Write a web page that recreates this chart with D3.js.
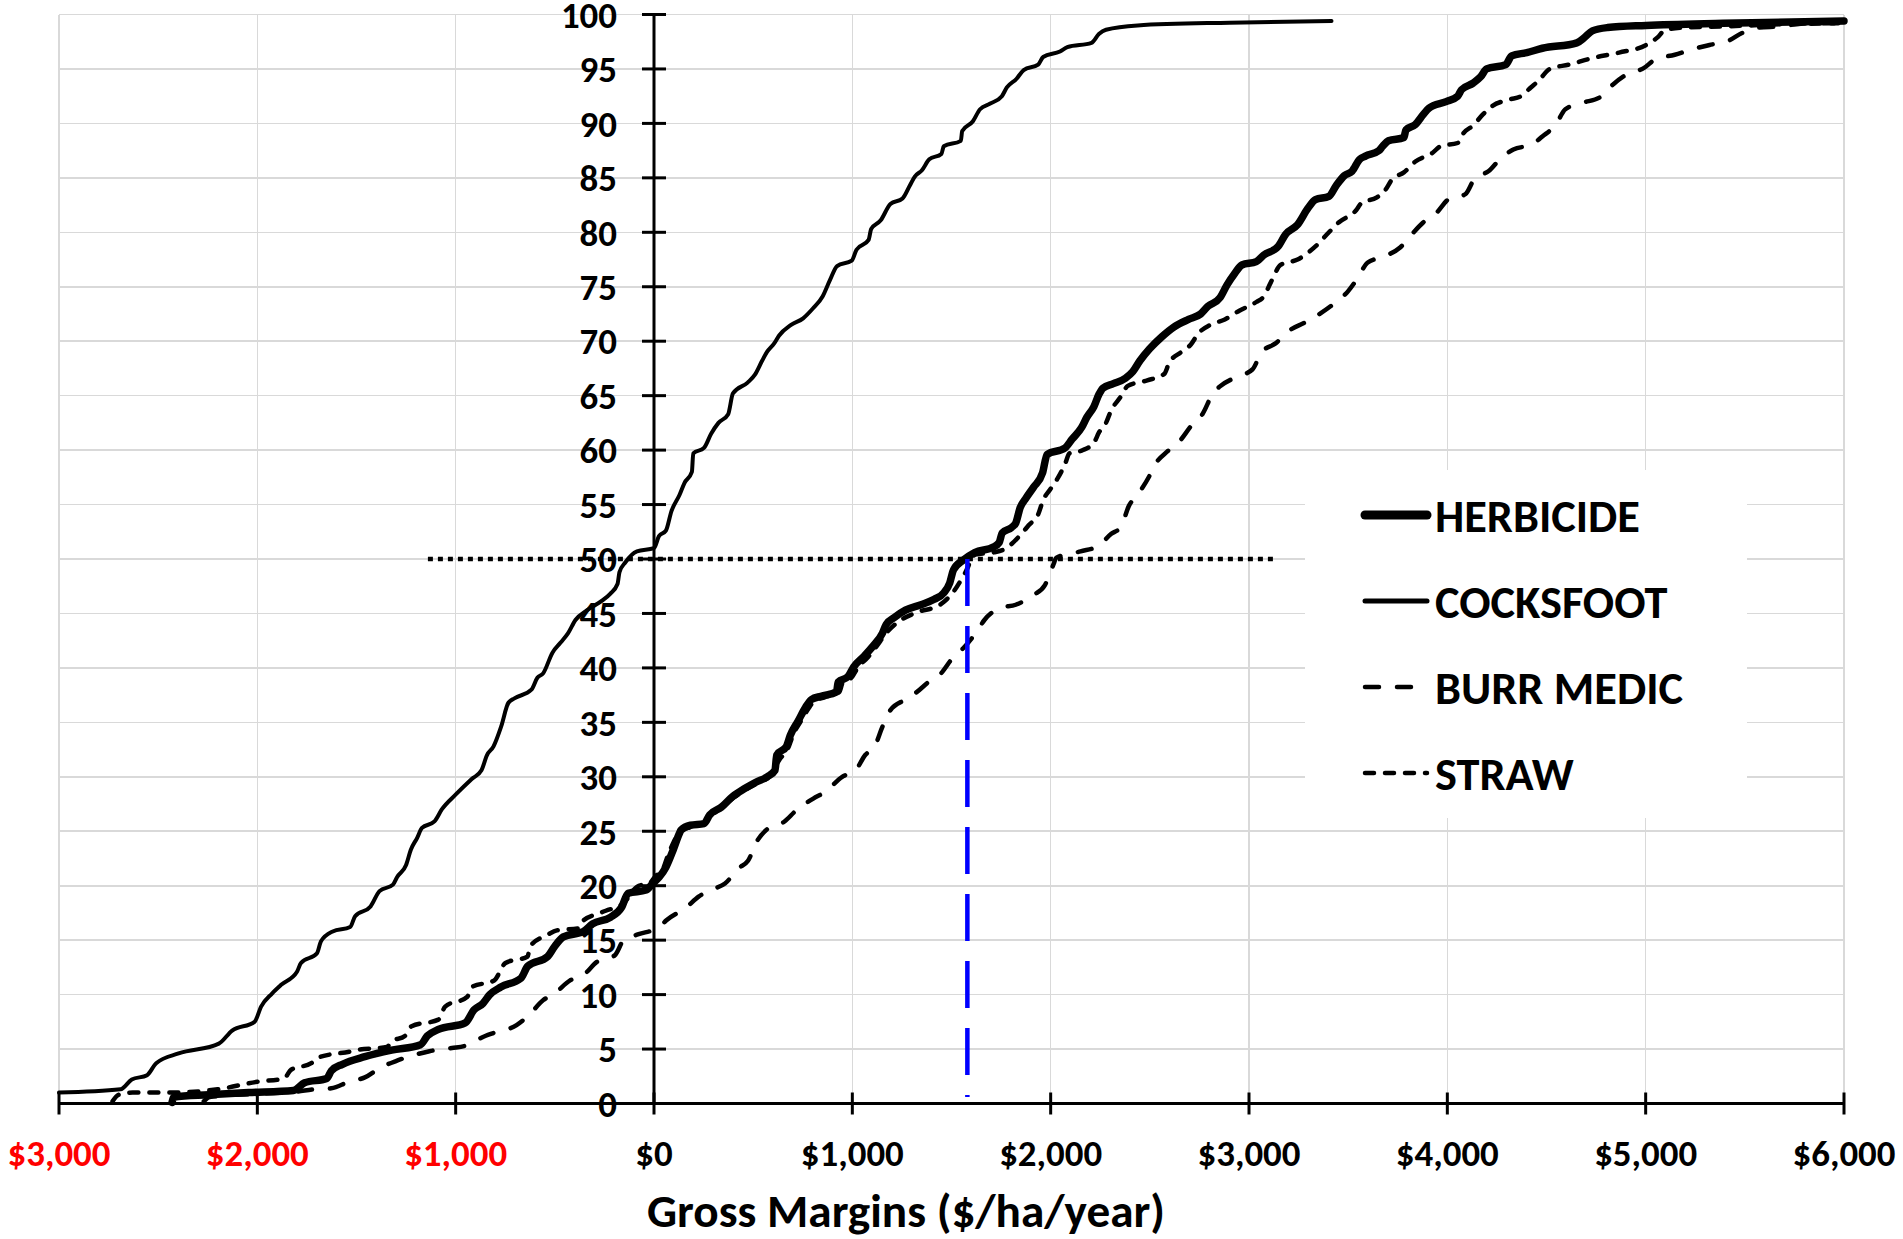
<!DOCTYPE html>
<html lang="en">
<head>
<meta charset="UTF-8">
<title>Gross margins cumulative distribution</title>
<script src="https://d3js.org/d3.v7.min.js"></script>
<style>
  body { margin: 0; background: #ffffff; }
  svg { display: block; }
  text { font-family: Carlito, Lato, "Open Sans", sans-serif; font-weight: bold; }
  line.grid { stroke: #d9d9d9; stroke-width: 1.6; shape-rendering: crispEdges; }
</style>
</head>
<body>
<svg id="chart" width="1903" height="1239"></svg>
<script>
// ---- data (gross margin $/ha/year, cumulative %) ----
var xTicks = [-3000, -2000, -1000, 0, 1000, 2000, 3000, 4000, 5000, 6000];
var xTickLabels = ["$3,000", "$2,000", "$1,000", "$0", "$1,000", "$2,000", "$3,000", "$4,000", "$5,000", "$6,000"];
var yTicks = [0, 5, 10, 15, 20, 25, 30, 35, 40, 45, 50, 55, 60, 65, 70, 75, 80, 85, 90, 95, 100];
var seriesNames = ["HERBICIDE", "COCKSFOOT", "BURR MEDIC", "STRAW"];
var medianLevel = 50;
var medianSpan = [-1140, 3145];
var herbicideMedian = 1580;

var herbicide = [[-2430,0.1],[-2420,0.6],[-2246,0.8],[-2043,1.0],[-1818,1.2],[-1762,1.9],[-1650,2.3],[-1627,3.0],[-1571,3.6],[-1458,4.3],[-1323,4.9],[-1177,5.4],[-1143,6.2],[-1087,6.8],[-952,7.4],[-907,8.6],[-862,9.2],[-828,10.0],[-772,10.7],[-671,11.5],[-637,12.6],[-536,13.5],[-502,14.4],[-457,15.3],[-356,15.8],[-310,16.5],[-220,17.1],[-164,18.0],[-130,19.3],[-40,19.6],[-7,20.2],[27,20.8],[60,21.7],[97,23.3],[128,24.8],[136,25.1],[184,25.55],[252,25.7],[281,26.5],[339,27.2],[397,28.2],[455,28.9],[513,29.5],[571,30.0],[610,30.6],[619,32.0],[668,32.8],[687,33.8],[726,35.1],[765,36.4],[794,37.1],[842,37.4],[920,37.8],[929,38.7],[978,39.2],[1007,40.1],[1055,41.0],[1104,42.0],[1152,43.2],[1171,44.0],[1210,44.6],[1268,45.3],[1346,45.8],[1413,46.3],[1462,46.9],[1491,47.8],[1510,49.0],[1559,49.9],[1617,50.6],[1711,51.1],[1740,51.5],[1756,52.4],[1803,52.9],[1824,53.3],[1846,54.7],[1876,55.6],[1914,56.6],[1959,57.9],[1982,59.6],[2072,60.2],[2108,61.0],[2157,62.1],[2182,63.0],[2218,64.0],[2243,65.1],[2264,65.7],[2316,66.1],[2377,66.6],[2414,67.2],[2450,68.2],[2499,69.3],[2560,70.4],[2621,71.3],[2695,72.0],[2756,72.5],[2793,73.2],[2854,74.0],[2890,75.2],[2927,76.2],[2964,77.0],[3037,77.3],[3074,77.9],[3147,78.7],[3184,79.8],[3245,80.7],[3297,82.2],[3335,83.0],[3403,83.3],[3440,84.3],[3481,85.2],[3519,85.6],[3558,86.7],[3587,87.0],[3655,87.5],[3674,87.9],[3703,88.4],[3781,88.7],[3791,89.4],[3839,89.9],[3878,90.8],[3907,91.4],[3994,92.0],[4052,92.5],[4072,93.1],[4130,93.7],[4169,94.3],[4198,95.0],[4295,95.4],[4324,96.2],[4401,96.5],[4479,96.9],[4653,97.4],[4692,97.9],[4731,98.5],[4808,98.8],[5002,99.0],[5390,99.2],[6000,99.4]];

var cocksfoot = [[-3000,1.0],[-2690,1.3],[-2633,2.2],[-2556,2.6],[-2510,3.7],[-2397,4.6],[-2194,5.5],[-2127,6.7],[-2014,7.5],[-1981,8.9],[-1926,10.1],[-1880,10.9],[-1800,12.1],[-1780,12.9],[-1699,13.8],[-1679,14.9],[-1620,15.8],[-1532,16.2],[-1507,17.2],[-1429,18.1],[-1384,19.5],[-1316,20.1],[-1295,20.8],[-1250,21.9],[-1226,23.3],[-1194,24.4],[-1170,25.3],[-1107,25.9],[-1070,27.0],[-998,28.4],[-919,29.8],[-870,30.6],[-842,32.0],[-809,32.8],[-771,34.6],[-734,36.8],[-704,37.2],[-618,38.0],[-588,39.1],[-559,39.5],[-512,41.4],[-472,42.3],[-433,43.2],[-396,44.4],[-337,45.3],[-260,46.2],[-221,46.8],[-184,47.7],[-174,48.8],[-144,49.7],[-86,50.7],[0,51.0],[25,52.1],[60,52.6],[88,54.4],[129,55.9],[154,57.0],[191,58.0],[198,59.7],[252,60.2],[288,61.5],[325,62.5],[374,63.3],[398,65.2],[472,66.2],[508,66.9],[545,68.2],[569,69.0],[606,69.8],[630,70.5],[691,71.5],[752,72.1],[801,73.0],[850,74.1],[887,75.6],[923,76.9],[997,77.4],[1021,78.4],[1082,79.3],[1095,80.3],[1143,81.1],[1192,82.6],[1253,83.1],[1290,84.3],[1314,85.1],[1351,85.7],[1388,86.7],[1449,87.2],[1461,87.9],[1547,88.4],[1554,89.3],[1608,90.2],[1644,91.3],[1693,91.8],[1754,92.5],[1779,93.3],[1828,94.1],[1864,94.9],[1937,95.4],[1962,96.1],[2047,96.6],[2084,97.0],[2206,97.4],[2243,98.2],[2279,98.6],[2438,99.0],[2902,99.25],[3416,99.4]];

var burrMedic = [[-2270,0.2],[-2240,0.6],[-2000,0.9],[-1800,1.1],[-1717,1.3],[-1627,1.4],[-1537,2.0],[-1458,2.4],[-1379,3.3],[-1301,3.9],[-1199,4.5],[-1132,4.8],[-1019,5.1],[-952,5.3],[-851,6.2],[-805,6.5],[-693,7.2],[-637,8.0],[-558,9.5],[-502,10.1],[-423,11.3],[-356,11.8],[-288,13.0],[-198,13.6],[-153,15.0],[-86,15.5],[27,16.2],[61,16.8],[162,18.0],[225,19.0],[300,19.7],[358,20.2],[426,21.6],[474,22.3],[523,24.2],[571,25.2],[658,25.9],[716,26.9],[803,28.0],[862,28.6],[949,30.0],[1016,30.6],[1065,32.0],[1113,32.8],[1152,34.6],[1191,36.1],[1268,37.1],[1326,37.8],[1384,38.7],[1442,39.4],[1510,41.0],[1559,41.8],[1626,43.3],[1666,44.4],[1745,45.5],[1824,45.8],[1914,46.7],[1971,47.6],[2016,49.6],[2027,50.1],[2151,50.7],[2242,51.2],[2304,52.3],[2353,52.9],[2395,54.9],[2438,55.9],[2500,57.7],[2524,58.6],[2590,59.9],[2649,60.8],[2712,62.3],[2765,63.3],[2818,65.2],[2850,65.8],[2935,66.7],[3017,67.4],[3064,69.0],[3134,69.8],[3205,71.0],[3281,71.7],[3364,72.6],[3425,73.4],[3500,74.6],[3548,75.8],[3597,77.2],[3684,77.8],[3762,78.6],[3820,79.8],[3878,80.9],[3946,81.8],[4004,83.0],[4091,83.5],[4140,85.0],[4207,85.6],[4275,86.9],[4333,87.6],[4430,88.1],[4479,88.8],[4547,89.9],[4595,91.3],[4682,91.9],[4769,92.4],[4837,93.6],[4905,94.5],[4992,95.1],[5050,95.9],[5147,96.3],[5234,96.8],[5322,97.2],[5419,97.6],[5486,98.3],[5574,98.8],[5671,98.9],[5758,99.1],[5855,99.2],[5951,99.2]];

var straw = [[-2730,0.2],[-2700,0.8],[-2629,1.0],[-2449,1.0],[-2200,1.3],[-2000,2.0],[-1865,2.3],[-1830,3.1],[-1728,3.7],[-1695,4.2],[-1526,4.8],[-1503,4.9],[-1346,5.2],[-1323,5.7],[-1256,6.2],[-1222,7.1],[-1087,7.7],[-1053,8.9],[-941,9.8],[-918,10.7],[-806,11.3],[-749,12.9],[-637,13.5],[-626,14.4],[-536,15.5],[-490,15.9],[-378,16.1],[-356,16.8],[-288,17.4],[-243,17.7],[-153,18.4],[-86,19.9],[-18,20.3],[4,20.8],[49,21.7],[72,22.9],[94,23.8],[130,25.0],[190,25.4],[260,25.8],[300,26.6],[350,27.3],[410,28.2],[470,28.9],[530,29.5],[585,30.1],[630,31.5],[680,32.8],[700,33.8],[740,35.1],[780,36.3],[810,37.0],[860,37.3],[935,37.8],[950,38.6],[1000,39.2],[1030,40.1],[1075,40.9],[1123,42.0],[1171,43.2],[1229,44.2],[1326,45.1],[1442,45.8],[1510,47.0],[1568,48.7],[1620,50.4],[1711,50.6],[1767,50.9],[1852,52.3],[1889,53.1],[1937,54.1],[1962,55.4],[1998,56.4],[2035,57.4],[2072,58.7],[2095,59.7],[2163,60.0],[2219,60.7],[2243,61.6],[2279,62.5],[2304,63.6],[2353,64.9],[2389,65.9],[2487,66.4],[2573,67.0],[2597,68.0],[2658,69.0],[2707,69.7],[2744,70.7],[2805,71.5],[2878,72.0],[2951,72.8],[3037,73.6],[3074,74.1],[3110,75.4],[3159,77.0],[3245,77.5],[3335,78.7],[3403,80.0],[3452,80.9],[3539,82.0],[3568,82.7],[3645,83.2],[3684,83.8],[3723,84.9],[3781,85.5],[3839,86.5],[3926,87.3],[3965,87.9],[4052,88.2],[4081,89.1],[4130,89.8],[4178,90.8],[4227,91.6],[4314,92.2],[4372,92.5],[4421,93.3],[4459,93.9],[4517,95.0],[4614,95.4],[4731,96.0],[4866,96.5],[5002,97.2],[5060,97.9],[5099,98.6],[5196,98.8],[5390,98.9],[5680,99.1],[5971,99.2]];

// ---- drawing ----
var svg = d3.select("#chart");
svg.append("rect").attr("width", 1903).attr("height", 1239).attr("fill", "#ffffff");

var xScale = d3.scaleLinear().domain([-3000, 6000]).range([59, 1844]);
var yScale = d3.scaleLinear().domain([0, 100]).range([1103.5, 14.5]);

// scale a label font so a sample string reaches a given width
function fitSize(sample, target) {
    var t = svg.append("text").attr("font-size", 100).text(sample);
    var w = t.node().getComputedTextLength();
    t.remove();
    return 100 * target / w;
}
var tickSize = fitSize("$3,000", 103);
var titleSize = fitSize("Gross Margins ($/ha/year)", 518);
var legendSize = fitSize("HERBICIDE", 205);

// gridlines
svg.append("g").selectAll("line")
    .data(xTicks)
    .enter().append("line")
    .attr("class", "grid")
    .attr("x1", function (d) { return xScale(d) })
    .attr("x2", function (d) { return xScale(d) })
    .attr("y1", yScale(0))
    .attr("y2", yScale(100));

svg.append("g").selectAll("line")
    .data(yTicks.slice(1))
    .enter().append("line")
    .attr("class", "grid")
    .attr("x1", xScale(-3000))
    .attr("x2", xScale(6000))
    .attr("y1", function (d) { return yScale(d) })
    .attr("y2", function (d) { return yScale(d) });

// 50% reference line
svg.append("line")
    .attr("x1", xScale(medianSpan[0]))
    .attr("x2", xScale(medianSpan[1]))
    .attr("y1", yScale(medianLevel))
    .attr("y2", yScale(medianLevel))
    .attr("stroke", "#000000")
    .attr("stroke-width", 4.5)
    .attr("stroke-dasharray", "5,5");

var line = d3.line()
    .x(function (d) { return xScale(d[0]) })
    .y(function (d) { return yScale(d[1]) })
    .curve(d3.curveMonotoneX);

var styles = [
    { data: herbicide, width: 7.5, dash: null },
    { data: cocksfoot, width: 4, dash: null },
    { data: burrMedic, width: 4.5, dash: "14,18" },
    { data: straw, width: 4.5, dash: "9,11" }
];

// draw bottom to top: straw, burr medic, cocksfoot, herbicide
[3, 2, 1, 0].forEach(function (i) {
    svg.append("path")
        .attr("d", line(styles[i].data))
        .attr("fill", "none")
        .attr("stroke", "#000000")
        .attr("stroke-width", styles[i].width)
        .attr("stroke-linecap", "round")
        .attr("stroke-linejoin", "round")
        .attr("stroke-dasharray", styles[i].dash);
});

// blue drop line at the herbicide median
svg.append("line")
    .attr("x1", xScale(herbicideMedian))
    .attr("x2", xScale(herbicideMedian))
    .attr("y1", yScale(medianLevel))
    .attr("y2", yScale(0.6))
    .attr("stroke", "#0000ff")
    .attr("stroke-width", 4.5)
    .attr("stroke-dasharray", "47,20");

// axes
var axes = svg.append("g").attr("stroke", "#000000").attr("stroke-width", 3);
axes.append("line")
    .attr("x1", xScale(-3000)).attr("x2", xScale(6000))
    .attr("y1", yScale(0)).attr("y2", yScale(0));
axes.append("line")
    .attr("x1", xScale(0)).attr("x2", xScale(0))
    .attr("y1", yScale(0)).attr("y2", yScale(100));
axes.selectAll("line.xt")
    .data(xTicks)
    .enter().append("line")
    .attr("class", "xt")
    .attr("x1", function (d) { return xScale(d) })
    .attr("x2", function (d) { return xScale(d) })
    .attr("y1", yScale(0) - 11)
    .attr("y2", yScale(0) + 11);
axes.selectAll("line.yt")
    .data(yTicks)
    .enter().append("line")
    .attr("class", "yt")
    .attr("x1", xScale(0) - 12)
    .attr("x2", xScale(0) + 12)
    .attr("y1", function (d) { return yScale(d) })
    .attr("y2", function (d) { return yScale(d) });

// tick labels
svg.append("g").selectAll("text")
    .data(xTicks)
    .enter().append("text")
    .attr("x", function (d) { return xScale(d) })
    .attr("y", yScale(0) + 62)
    .attr("text-anchor", "middle")
    .attr("font-size", tickSize)
    .attr("fill", function (d) { return d < 0 ? "#ff0000" : "#000000" })
    .text(function (d, i) { return xTickLabels[i] });

svg.append("g").selectAll("text")
    .data(yTicks)
    .enter().append("text")
    .attr("x", xScale(0) - 37)
    .attr("y", function (d) { return yScale(d) + tickSize * 0.36 })
    .attr("text-anchor", "end")
    .attr("font-size", tickSize)
    .attr("fill", "#000000")
    .text(function (d) { return d });

// axis title
svg.append("text")
    .attr("x", 906)
    .attr("y", 1227)
    .attr("text-anchor", "middle")
    .attr("font-size", titleSize)
    .attr("fill", "#000000")
    .text("Gross Margins ($/ha/year)");

// legend
var legend = svg.append("g");
legend.append("rect")
    .attr("x", 1305).attr("y", 470)
    .attr("width", 442).attr("height", 348)
    .attr("fill", "#ffffff");

var legendRows = [515, 601, 687, 773];
seriesNames.forEach(function (name, i) {
    legend.append("line")
        .attr("x1", 1365).attr("x2", 1427)
        .attr("y1", legendRows[i]).attr("y2", legendRows[i])
        .attr("stroke", "#000000")
        .attr("stroke-width", i === 0 ? 9 : (i === 1 ? 5 : 4.5))
        .attr("stroke-linecap", "round")
        .attr("stroke-dasharray", styles[i].dash);
    legend.append("text")
        .attr("x", 1435)
        .attr("y", legendRows[i] + legendSize * 0.36)
        .attr("font-size", legendSize)
        .attr("fill", "#000000")
        .text(name);
});
</script>
</body>
</html>
